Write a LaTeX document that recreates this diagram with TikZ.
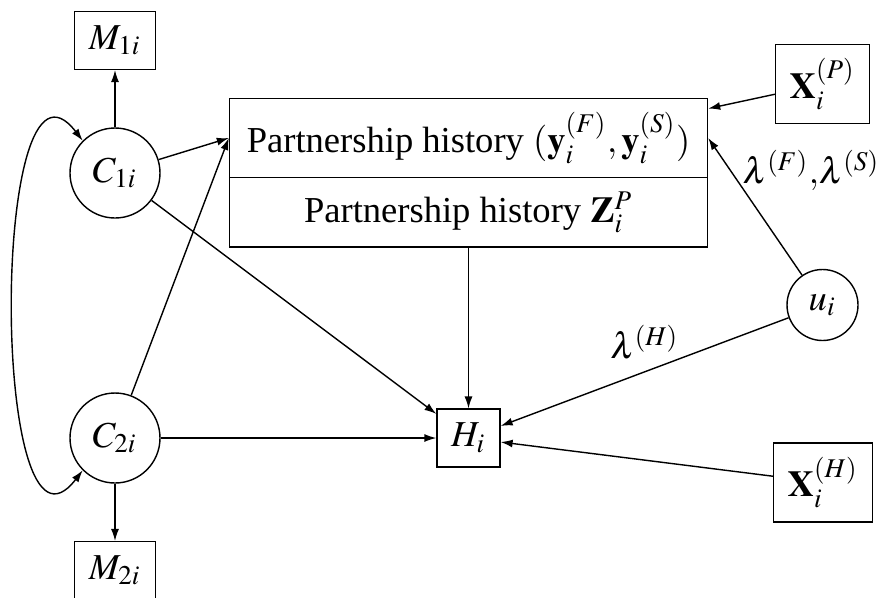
\documentclass[tikz,border=0pt]{standalone}
\usepackage{amsmath}
\usepackage{mathptmx}
\usepackage{fontspec}
\setmainfont{Liberation Serif}
\usepackage{tikz}
\usetikzlibrary{shapes,arrows,calc,positioning}
\usetikzlibrary{arrows.meta}
\tikzset{%
	>={Latex[width=0.8mm,length=1.2mm]},
	% Specifications for style of nodes:
	base/.style = {draw=black, inner sep=4pt},
	latent/.style = {base, circle, minimum size=0.9cm, inner sep=1pt},
	latentsmall/.style = {latent, minimum size=0.71cm},
	observed/.style = {base, rectangle, minimum height=0.55cm},
	covariate/.style = {base, rectangle, minimum width=0.92cm, minimum height=0.77cm},
	history/.style = {base, rectangle, inner xsep=2pt, minimum width=4.78cm},
}

\begin{document}
\begin{tikzpicture}[node distance=1.325cm,
every node/.style={font=\fontsize{10.4}{12}\selectfont}, align=center]
\useasboundingbox (-1.15,-4.24) rectangle (7.66,1.73);
%% Specification of nodes (position, etc.)
\node (C1)    [latent] {$C_{1i}$};
\node (M1)    [observed, above of=C1] {$M_{1i}$};
\node (C2)    [latent, below of=C1, yshift=-1.325cm] {$C_{2i}$};
\node (M2)    [observed, below of=C2] {$M_{2i}$};
\node (H)     [observed, right of=C2, xshift=2.21cm] {$H_i$};
\node (histY) [history, minimum height=0.79cm, above of=H, yshift=1.675cm] {Partnership history $(\mathbf{y}_i^{(F)},\mathbf{y}_i^{(S)})$};
\node (histZ) [history, minimum height=0.69cm, below=-0.4pt of histY] {Partnership history $\mathbf{Z}_i^P$};
\node (XP)    [covariate, right of=histY, xshift=2.215cm, yshift=0.54cm] {$\mathbf{X}_i^{(P)}$};
\node (u)     [latentsmall, below of=XP, yshift=-0.885cm] {$u_i$};
\node (XH)    [covariate, right of=H, xshift=2.22cm, yshift=-0.445cm] {$\mathbf{X}_i^{(H)}$};

%% Specification of lines between nodes specified above
\draw[->]      (C1) -- (M1);
\draw[->]      (C2) -- (M2);
\draw[<->]     (C1.135) .. controls +(-0.93,1.21) and +(-0.93,-1.21) .. (C2.225);
\draw[->]      (C1) -- (histY.west);
\draw[->]      (C2) -- (histY.west);
\draw[->]      (C1) -- (H);
\draw[->]      (C2) -- (H);
\draw[->]      (histZ.south) -- (H);
\draw[->]      (XP) -- (histY.7);
\draw[->]      (u) -- (histY.east) node[pos=0.765, right] {$\lambda^{(F)}{,}\lambda^{(S)}$};
\draw[->]      (u) -- (H) node[pos=0.5, above] {$\lambda^{(H)}$};
\draw[->]      (XH) -- (H);
\end{tikzpicture}
\end{document}
